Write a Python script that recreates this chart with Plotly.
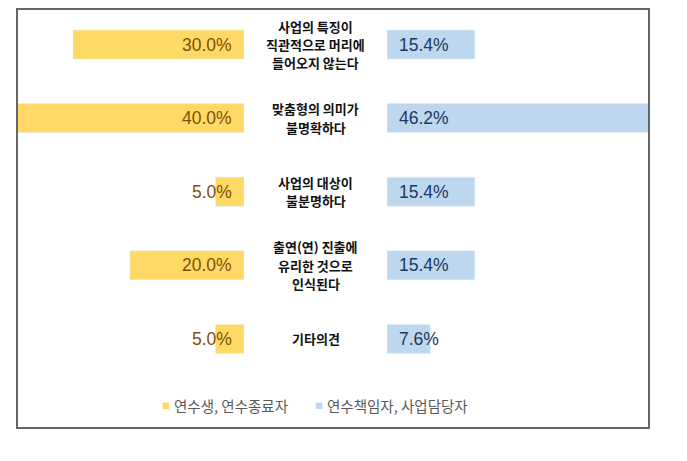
import plotly.graph_objects as go

categories = [
    "사업의 특징이<br>직관적으로 머리에<br>들어오지 않는다",
    "맞춤형의 의미가<br>불명확하다",
    "사업의 대상이<br>불분명하다",
    "출연(연) 진출에<br>유리한 것으로<br>인식된다",
    "기타의견",
]
trainees = [30.0, 40.0, 5.0, 20.0, 5.0]       # 연수생, 연수종료자
managers = [15.4, 46.2, 15.4, 15.4, 7.6]      # 연수책임자, 사업담당자
series_names = ["연수생, 연수종료자", "연수책임자, 사업담당자"]

# the page body adds an 8px margin, so positions below are page pixels minus 8
OFF = 8
W, H = 687 - 2 * OFF, 461 - 2 * OFF
FONT = "Noto Sans CJK KR, Noto Sans, sans-serif"
NUM_FONT = "Liberation Sans, Arial, sans-serif"
YELLOW, BLUE = "#FFD966", "#BDD7EE"
PX_PER_PCT = 5.7
ROW = 73.6
LINE = 18.4


def px(x):
    return (x - OFF) / W


def py(y):
    return 1 - (y - OFF) / H


fig = go.Figure()
fig.add_trace(go.Bar(y=categories, x=trainees, orientation="h", marker_color=YELLOW,
                     width=0.394, xaxis="x", yaxis="y", name=series_names[0],
                     showlegend=False, hoverinfo="x"))
fig.add_trace(go.Bar(y=categories, x=managers, orientation="h", marker_color=BLUE,
                     width=0.394, xaxis="x2", yaxis="y", name=series_names[1],
                     showlegend=False, hoverinfo="x"))

annotations = []
for c, a, b in zip(categories, trainees, managers):
    annotations.append(dict(x=0, y=c, xref="x", yref="y", text=f"{a:.1f}%",
                            xanchor="right", xshift=-10, showarrow=False,
                            font=dict(family=NUM_FONT, size=17.5, color="#7F4F00")))
    annotations.append(dict(x=0, y=c, xref="x2", yref="y", text=f"{b:.1f}%",
                            xanchor="left", xshift=10, showarrow=False,
                            font=dict(family=NUM_FONT, size=17.5, color="#203864")))
    lines = c.split("<br>")
    for i, ln in enumerate(lines):
        annotations.append(dict(x=px(315.5), y=c, xref="paper", yref="y", text=f"<b>{ln}</b>",
                                xanchor="center", yanchor="middle", showarrow=False,
                                borderpad=0, yshift=((len(lines) - 1) / 2 - i) * LINE,
                                font=dict(family=FONT, size=13, color="#111111")))

# legend drawn as text with coloured squares
for sx, tx, col, name in [(165.5, 172, YELLOW, series_names[0]),
                          (318.5, 325, BLUE, series_names[1])]:
    annotations.append(dict(x=px(sx), y=py(405), xref="paper", yref="paper", showarrow=False,
                            xanchor="center", yanchor="middle", text="■",
                            font=dict(family=FONT, size=8, color=col)))
    annotations.append(dict(x=px(tx), y=py(405), xref="paper", yref="paper", showarrow=False,
                            xanchor="left", yanchor="middle", text=name,
                            font=dict(family=FONT, size=14.5, color="#595959")))

fig.update_layout(
    width=W, height=H,
    margin=dict(l=0, r=0, t=0, b=0),
    paper_bgcolor="white", plot_bgcolor="white",
    barmode="overlay",
    xaxis=dict(domain=[px(17), px(244)], range=[(244 - 17) / PX_PER_PCT, 0],
               visible=False, fixedrange=True),
    xaxis2=dict(domain=[px(387), px(649)], range=[0, (649 - 387) / PX_PER_PCT],
                visible=False, fixedrange=True),
    yaxis=dict(type="category", categoryorder="array", categoryarray=categories,
               range=[(H + OFF - 44.5) / ROW, (OFF - 44.5) / ROW],
               visible=False, fixedrange=True),
    annotations=annotations,
    shapes=[dict(type="rect", xref="paper", yref="paper",
                 x0=px(17), x1=px(649), y0=py(428), y1=py(9),
                 line=dict(color="#666666", width=2), fillcolor="rgba(0,0,0,0)",
                 layer="above")],
)

fig.write_html("out.html")
